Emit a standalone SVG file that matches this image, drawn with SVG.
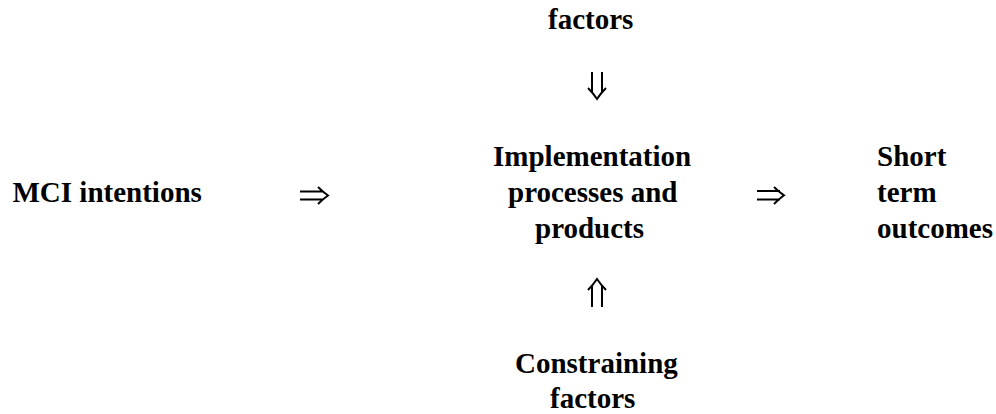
<svg xmlns="http://www.w3.org/2000/svg" width="996" height="414" viewBox="0 0 996 414">
<style>
  .t { font-family: "Liberation Serif", "Times New Roman", serif; font-weight: bold; font-size: 29px; fill: #000; }
  .a { fill: none; stroke: #000; stroke-width: 2; stroke-linecap: butt; stroke-linejoin: miter; }
</style>
<rect width="996" height="414" fill="#fff"/>
<g id="node-enabling">
  <text class="t" x="548" y="29">factors</text>
</g>
<g id="node-intentions">
  <text class="t" x="12.5" y="202">MCI intentions</text>
</g>
<g id="node-implementation">
  <text class="t" x="493" y="166">Implementation</text>
  <text class="t" x="508" y="202">processes and</text>
  <text class="t" x="535" y="238">products</text>
</g>
<g id="node-outcomes">
  <text class="t" x="877" y="166">Short</text>
  <text class="t" x="877" y="202">term</text>
  <text class="t" x="877" y="238">outcomes</text>
</g>
<g id="node-constraining">
  <text class="t" x="515" y="373">Constraining</text>
  <text class="t" x="550" y="408">factors</text>
</g>
<g id="connectors">
  <path class="a" d="M300,191.5 H323 M300,199.5 H323 M318,187 Q323,192 328,195.5 Q323,199 318,204"/>
  <path class="a" d="M757,191 H780 M757,199.5 H780 M774,187 Q779,192 784,195.3 Q779,199 774,204"/>
  <path class="a" d="M592,72 V93 M602,72 V93 M588,88 Q593,93 597,99 Q601,93 606,88"/>
  <path class="a" d="M592,307 V285 M602,307 V285 M588,290 Q593,285 597,279 Q601,285 606,290"/>
</g>
</svg>
